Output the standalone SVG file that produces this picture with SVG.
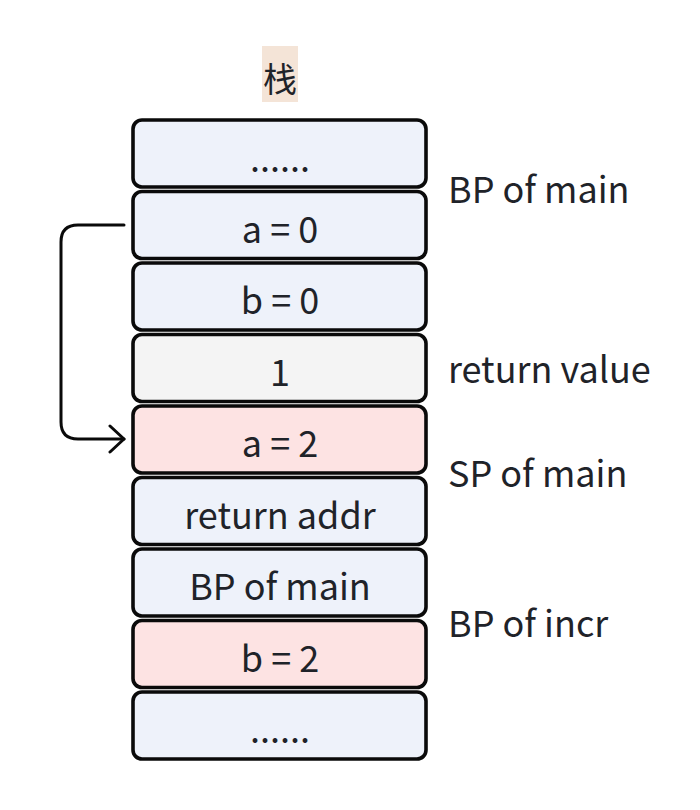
<svg xmlns="http://www.w3.org/2000/svg" width="700" height="810" viewBox="0 0 700 810">
<defs>
<style>
.box{stroke:#0a0a0a;stroke-width:3.6}
.blue{fill:#eef2fa}
.gray{fill:#f4f4f4}
.pink{fill:#fde3e3}
.t{font-family:"Noto Sans CJK SC","Noto Sans",sans-serif;font-size:36px;fill:#1f2329;text-anchor:middle}
.lbl{font-family:"Noto Sans CJK SC","Noto Sans",sans-serif;font-size:36px;fill:#1f2329}
.conn{fill:none;stroke:#0a0a0a;stroke-width:3;stroke-linecap:round;stroke-linejoin:round}
</style>
<marker id="arr" viewBox="0 0 20 30" refX="16" refY="15" markerWidth="20" markerHeight="30" markerUnits="userSpaceOnUse" orient="auto">
<path d="M2,2 L16,15 L2,28" fill="none" stroke="#0a0a0a" stroke-width="3" stroke-linecap="round" stroke-linejoin="round"/>
</marker>
</defs>
<rect width="700" height="810" fill="#ffffff"/>
<g id="title">
<rect x="262" y="46" width="36" height="56" fill="#f4e4d7"/>
<text x="280" y="92" class="t" style="font-size:34px">栈</text>
</g>
<g id="n1"><rect class="box blue" x="133" y="120" width="293" height="67" rx="9"/><text class="t" x="280" y="172">......</text></g>
<g id="n2"><rect class="box blue" x="133" y="191.5" width="293" height="67" rx="9"/><text class="t" x="280" y="243">a = 0</text></g>
<g id="n3"><rect class="box blue" x="133" y="263" width="293" height="67" rx="9"/><text class="t" x="280" y="314">b = 0</text></g>
<g id="n4"><rect class="box gray" x="133" y="334.5" width="293" height="67" rx="9"/><text class="t" x="280" y="386">1</text></g>
<g id="n5"><rect class="box pink" x="133" y="406" width="293" height="67" rx="9"/><text class="t" x="280" y="457">a = 2</text></g>
<g id="n6"><rect class="box blue" x="133" y="477.5" width="293" height="67" rx="9"/><text class="t" x="280" y="529">return addr</text></g>
<g id="n7"><rect class="box blue" x="133" y="549" width="293" height="67" rx="9"/><text class="t" x="280" y="600">BP of main</text></g>
<g id="n8"><rect class="box pink" x="133" y="620.5" width="293" height="67" rx="9"/><text class="t" x="280" y="672">b = 2</text></g>
<g id="n9"><rect class="box blue" x="133" y="692" width="293" height="67" rx="9"/><text class="t" x="280" y="743">......</text></g>
<g id="labels">
<text class="lbl" x="448" y="203">BP of main</text>
<text class="lbl" x="448" y="383">return value</text>
<text class="lbl" x="448" y="487">SP of main</text>
<text class="lbl" x="448" y="637">BP of incr</text>
</g>
<g id="connectors">
<path class="conn" d="M124,225 L78,225 Q61,225 61,242 L61,422 Q61,439 78,439 L124,439" marker-end="url(#arr)"/>
</g>
</svg>
